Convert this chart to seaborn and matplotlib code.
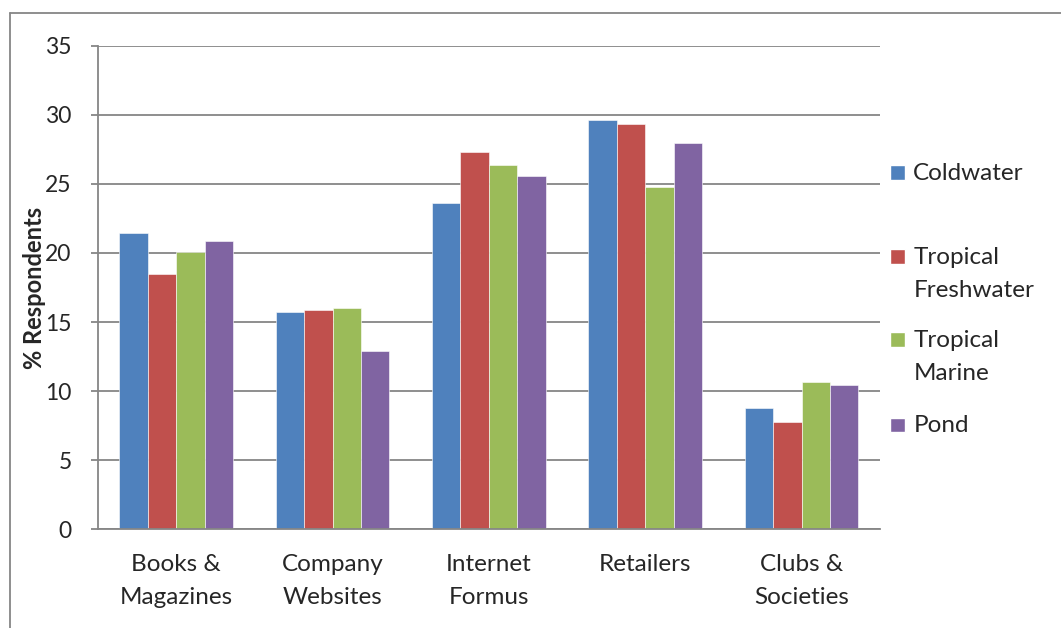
import numpy as np
import pandas as pd
import matplotlib
matplotlib.use("Agg")
import matplotlib.pyplot as plt
from matplotlib.lines import Line2D
from matplotlib.patches import Rectangle
from matplotlib.legend_handler import HandlerPatch
import seaborn as sns

# ── data ────────────────────────────────────────────────────────
categories = ["Books &\nMagazines", "Company\nWebsites", "Internet\nFormus",
              "Retailers", "Clubs &\nSocieties"]
series = ["Coldwater", "Tropical\nFreshwater", "Tropical\nMarine", "Pond"]
coldwater = [21.45, 15.75, 23.65, 29.65, 8.8]
tropical_fresh = [18.5, 15.9, 27.35, 29.35, 7.75]
tropical_marine = [20.1, 16.05, 26.4, 24.75, 10.65]
pond = [20.9, 12.9, 25.55, 27.95, 10.45]
colors = ["#4F81BD", "#C0504D", "#9BBB59", "#8064A2"]

df = pd.DataFrame({
    "category": categories * 4,
    "series": np.repeat(series, len(categories)),
    "value": coldwater + tropical_fresh + tropical_marine + pond,
})

# ── plot ───────────────────────────────────────────────────────
sns.set_style("white")
plt.rcParams["font.family"] = ["Lato", "DejaVu Sans"]

fig = plt.figure(figsize=(10.61, 6.28), dpi=100)
ax = fig.add_axes([0.0924, 0.1576, 0.8292 - 0.0924, 0.9268 - 0.1576])

sns.barplot(data=df, x="category", y="value", hue="series",
            hue_order=series, order=categories, palette=colors,
            width=0.727, gap=0, saturation=1, errorbar=None,
            edgecolor="white", linewidth=0.4, ax=ax, legend=False)

grid_c = "#868686"
ax.set_ylim(0, 35)
ax.set_yticks(range(0, 36, 5))
ax.set_xlim(-0.5, len(categories) - 0.5)
ax.yaxis.grid(True, color=grid_c, linewidth=1.3)
ax.set_axisbelow(True)
for s in ["top", "right"]:
    ax.spines[s].set_visible(False)
for s in ["left", "bottom"]:
    ax.spines[s].set_color(grid_c)
    ax.spines[s].set_linewidth(1.3)

ax.set_xticks(np.arange(len(categories)))
ax.set_xticklabels(categories, fontsize=17.5, linespacing=1.7)
ax.set_xticks(np.arange(-0.5, len(categories)), minor=True)
ax.tick_params(axis="x", which="major", length=0, pad=18)
ax.tick_params(axis="x", which="minor", length=8, width=1.3, color=grid_c,
               direction="out")
ax.tick_params(axis="y", length=5, width=1.3, color=grid_c, labelsize=16.5,
               pad=14, left=True)
ax.set_xlabel("")
ax.set_ylabel("% Respondents", fontsize=17, fontweight="bold")
ax.yaxis.set_label_coords(-0.066, 0.5)


# legend: every entry but the last gets two lines, marker on the first
def make_patch(shift):
    def f(legend, orig_handle, xdescent, ydescent, width, height, fontsize):
        side = height * 0.8
        return Rectangle((-xdescent + 1, -ydescent + shift), side, side)
    return f


legend_labels = [s if "\n" in s or s == series[-1] else s + "\n"
                 for s in series]
handles = [Rectangle((0, 0), 1, 1, facecolor=c) for c in colors]
handler_map = {}
for h, lab in zip(handles, legend_labels):
    shift = 14 if "\n" in lab else 0
    handler_map[h] = HandlerPatch(patch_func=make_patch(shift))
leg = fig.legend(handles, legend_labels, handler_map=handler_map,
                 loc="upper left", bbox_to_anchor=(0.826, 0.7595),
                 frameon=False, fontsize=17.5, handlelength=0.72,
                 handleheight=0.8, handletextpad=0.3, labelspacing=1.22,
                 borderpad=0)
for t in leg.get_texts():
    t.set_linespacing(1.7)

# chart area border
fig.add_artist(Line2D([10 / 1061, 10 / 1061], [0, 1 - 13 / 628],
                      transform=fig.transFigure, color=grid_c, lw=1.3))
fig.add_artist(Line2D([10 / 1061, 1], [1 - 13 / 628, 1 - 13 / 628],
                      transform=fig.transFigure, color=grid_c, lw=1.3))

fig.savefig("out.png", dpi=100)
